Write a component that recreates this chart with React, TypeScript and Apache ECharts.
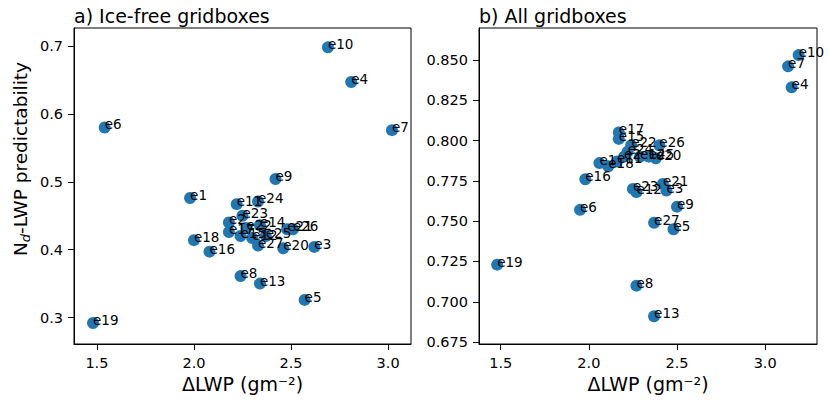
import React, { useEffect, useRef } from "react";
import * as echarts from "echarts";

const FONT = "DejaVu Sans";

const names = [
  "e1", "e2", "e3", "e4", "e5", "e6", "e7", "e8", "e9", "e10",
  "e11", "e12", "e13", "e14", "e15", "e16", "e17", "e18", "e19", "e20",
  "e21", "e22", "e23", "e24", "e25", "e26", "e27",
];

// a) Ice-free gridboxes
const leftX = [
  1.98, 2.18, 2.62, 2.81, 2.57, 1.54, 3.02, 2.24, 2.42, 2.69,
  2.22, 2.30, 2.34, 2.34, 2.24, 2.08, 2.18, 2.0, 1.48, 2.46,
  2.48, 2.27, 2.25, 2.33, 2.37, 2.51, 2.33,
];
const leftY = [
  0.476, 0.44, 0.404, 0.647, 0.326, 0.58, 0.576, 0.361, 0.504, 0.698,
  0.467, 0.417, 0.35, 0.436, 0.42, 0.397, 0.426, 0.414, 0.292, 0.402,
  0.43, 0.432, 0.45, 0.471, 0.42, 0.43, 0.406,
];

// b) All gridboxes
const rightX = [
  2.06, 2.2, 2.44, 3.15, 2.48, 1.95, 3.13, 2.27, 2.5, 3.19,
  2.16, 2.27, 2.37, 2.29, 2.17, 1.98, 2.17, 2.11, 1.48, 2.38,
  2.42, 2.24, 2.25, 2.22, 2.34, 2.4, 2.37,
];
const rightY = [
  0.786, 0.79, 0.769, 0.833, 0.745, 0.757, 0.846, 0.71, 0.759, 0.853,
  0.787, 0.768, 0.691, 0.79, 0.801, 0.776, 0.805, 0.784, 0.723, 0.789,
  0.773, 0.797, 0.77, 0.793, 0.79, 0.797, 0.749,
];

const xTicks = [1.5, 2.0, 2.5, 3.0];
const leftYTicks = [0.3, 0.4, 0.5, 0.6, 0.7];
const rightYTicks = [0.675, 0.7, 0.725, 0.75, 0.775, 0.8, 0.825, 0.85];

const titles = ["a) Ice-free gridboxes", "b) All gridboxes"];
const xName = "ΔLWP (gm⁻²)";

function xAxis(gridIndex: number, min: number, max: number) {
  return {
    type: "value",
    gridIndex,
    min,
    max,
    name: xName,
    nameLocation: "middle",
    nameGap: 30,
    nameTextStyle: { color: "#000", fontSize: 19, fontFamily: FONT },
    axisLine: { show: true, onZero: false, lineStyle: { color: "#000", width: 1 } },
    axisTick: { show: true, length: 6, customValues: xTicks, lineStyle: { color: "#000", width: 1 } },
    axisLabel: {
      customValues: xTicks,
      formatter: (v: number) => v.toFixed(1),
      color: "#000",
      fontSize: 14.5,
      fontFamily: FONT,
      margin: 11,
    },
    splitLine: { show: false },
  };
}

function yAxis(gridIndex: number, min: number, max: number, ticks: number[], digits: number, withName: boolean) {
  const ax: any = {
    type: "value",
    gridIndex,
    min,
    max,
    axisLine: { show: true, onZero: false, lineStyle: { color: "#000", width: 1 } },
    axisTick: { show: true, length: 6, customValues: ticks, lineStyle: { color: "#000", width: 1 } },
    axisLabel: {
      customValues: ticks,
      formatter: (v: number) => v.toFixed(digits),
      color: "#000",
      fontSize: 14.5,
      fontFamily: FONT,
      margin: 11,
    },
    splitLine: { show: false },
  };
  if (withName) {
    ax.name = "{a|N}{b|d}{a|-LWP predictability}";
    ax.nameLocation = "middle";
    ax.nameGap = 42;
    ax.nameTextStyle = {
      color: "#000",
      fontFamily: FONT,
      padding: [0, 0, 0, 54],
      rich: {
        a: { fontSize: 18.5, fontFamily: FONT, color: "#000", lineHeight: 24 },
        b: { fontSize: 13, fontFamily: FONT, fontStyle: "italic", color: "#000", lineHeight: 14, verticalAlign: "bottom" },
      },
    };
  }
  return ax;
}

function series(idx: number, xs: number[], ys: number[]) {
  return {
    type: "scatter",
    xAxisIndex: idx,
    yAxisIndex: idx,
    symbolSize: 12,
    silent: true,
    itemStyle: { color: "#1f77b4", opacity: 1 },
    label: {
      show: true,
      formatter: (p: any) => p.name,
      position: [6, 10],
      align: "left",
      verticalAlign: "bottom",
      color: "#000",
      fontSize: 13.5,
      fontFamily: FONT,
    },
    data: names.map((n, i) => ({ name: n, value: [xs[i], ys[i]] })),
  };
}

export default function App() {
  const ref = useRef<HTMLDivElement>(null);
  useEffect(() => {
    if (!ref.current) return;
    const chart = echarts.init(ref.current, undefined, { renderer: "svg" });
    chart.setOption({
      animation: false,
      backgroundColor: "#fff",
      textStyle: { fontFamily: FONT },
      title: [
        { text: titles[0], left: 74, top: 6, padding: 0, textStyle: { fontSize: 19, fontWeight: "normal", color: "#000", fontFamily: FONT } },
        { text: titles[1], left: 479, top: 6, padding: 0, textStyle: { fontSize: 19, fontWeight: "normal", color: "#000", fontFamily: FONT } },
      ],
      grid: [
        { left: 74, top: 28, width: 337, height: 316, show: true, borderColor: "#000", borderWidth: 1, backgroundColor: "transparent" },
        { left: 479, top: 28, width: 338, height: 316, show: true, borderColor: "#000", borderWidth: 1, backgroundColor: "transparent" },
      ],
      xAxis: [xAxis(0, 1.382, 3.118), xAxis(1, 1.377, 3.294)],
      yAxis: [
        yAxis(0, 0.261, 0.7265, leftYTicks, 1, true),
        yAxis(1, 0.6738, 0.8698, rightYTicks, 3, false),
      ],
      series: [series(0, leftX, leftY), series(1, rightX, rightY)],
    });
    return () => chart.dispose();
  }, []);
  return <div ref={ref} style={{ position: "absolute", left: 0, top: 0, width: 828, height: 401 }} />;
}
